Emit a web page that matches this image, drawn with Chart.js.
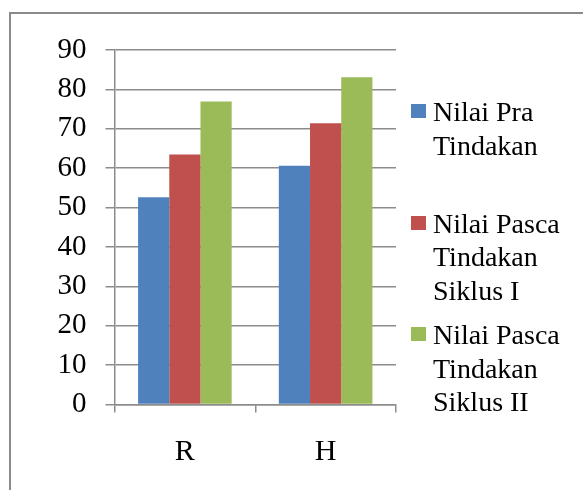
<!DOCTYPE html>
<html>
<head>
<meta charset="utf-8">
<script src="https://cdn.jsdelivr.net/npm/chart.js@4"></script>
<style>
  html, body { margin: 0; padding: 0; background: #fff; overflow: hidden; }
  #wrap { position: relative; width: 583px; height: 490px; overflow: hidden; }
  #frame { position: absolute; left: 9px; top: 12px; width: 620px; height: 520px; border: 2px solid #8a8a8a; box-sizing: border-box; }
  #chart { position: absolute; left: 0; top: 0; }
  #legend { position: absolute; left: 0; top: 0; font-family: 'Liberation Serif', 'Times New Roman', serif; font-size: 28px; line-height: 33.5px; color: #000; }
  .item { position: absolute; left: 411px; padding-left: 22px; white-space: nowrap; }
  .box { position: absolute; left: 0; top: 9px; width: 15px; height: 14px; }
</style>
</head>
<body>
<div id="wrap">
  <div id="frame"></div>
  <canvas id="chart" width="583" height="490"></canvas>
  <div id="legend"></div>
</div>
<script>
// Datos
const categories = ['R', 'H'];
const seriesNames = [
    ['Nilai Pra', 'Tindakan'],
    ['Nilai Pasca', 'Tindakan', 'Siklus I'],
    ['Nilai Pasca', 'Tindakan', 'Siklus II']
];
const praValues = [52.6, 60.6];
const siklus1Values = [63.5, 71.4];
const siklus2Values = [76.9, 83.1];
const yMin = 0, yMax = 90, yStep = 10;
const colors = ['#4F81BD', '#C0504D', '#9BBB59'];

const serif = "'Liberation Serif', 'Times New Roman', serif";
const gridColor = '#8c8c8c';

const ctx = document.getElementById('chart').getContext('2d');
const chart = new Chart(ctx, {
    type: 'bar',
    data: {
        labels: categories,
        datasets: [praValues, siklus1Values, siklus2Values].map((vals, i) => ({
            label: seriesNames[i].join(' '),
            data: vals,
            backgroundColor: colors[i],
            borderWidth: 0,
            categoryPercentage: 0.665,
            barPercentage: 1.0
        }))
    },
    options: {
        responsive: false,
        animation: false,
        layout: { padding: { top: 50, right: 187, left: 0, bottom: 0 } },
        plugins: { legend: { display: false }, tooltip: { enabled: false } },
        scales: {
            x: {
                grid: { offset: true, drawOnChartArea: false, tickLength: 8, color: gridColor, lineWidth: 1.5 },
                border: { color: gridColor, width: 1.5 },
                ticks: { color: '#000', padding: 22, font: { family: serif, size: 30 } },
                afterFit: s => { s.height = 85.5; }
            },
            y: {
                min: yMin, max: yMax,
                grid: { tickLength: 9, color: gridColor, lineWidth: 1.5 },
                border: { color: gridColor, width: 1.5 },
                ticks: { stepSize: yStep, color: '#000', padding: 19, font: { family: serif, size: 29 } },
                afterFit: s => { s.width = 114.5; }
            }
        }
    }
});

// Leyenda en HTML (texto en varias líneas)
const legendEl = document.getElementById('legend');
chart.data.datasets.forEach((ds, i) => {
    const item = document.createElement('div');
    item.className = 'item';
    item.style.top = (95 + i * 111.5) + 'px';
    item.innerHTML = `<span class="box" style="background:${ds.backgroundColor}"></span>` +
        seriesNames[i].join('<br>');
    legendEl.appendChild(item);
});
</script>
</body>
</html>
